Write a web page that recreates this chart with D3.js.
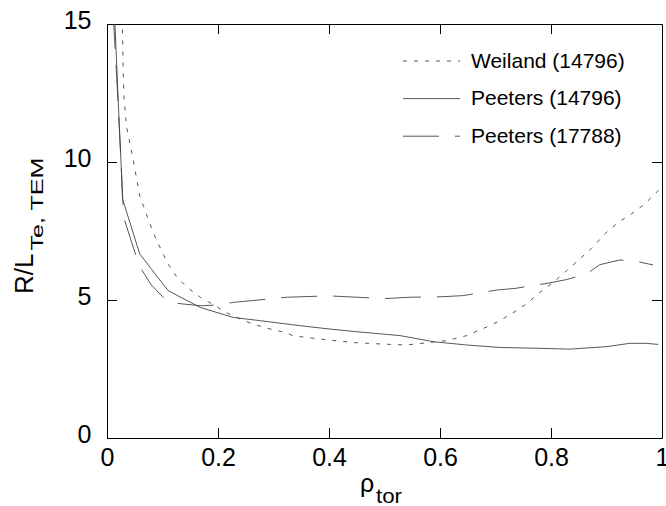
<!DOCTYPE html>
<html>
<head>
<meta charset="utf-8">
<script src="https://cdn.jsdelivr.net/npm/d3@7"></script>
<style>
body { margin: 0; background: #fff; }
text { font-family: "Liberation Sans", Arial, sans-serif; fill: #000; }
.curve { fill: none; stroke: #444; stroke-width: 0.9; }
.axis path, .axis line { stroke: #000; stroke-width: 1; }
</style>
</head>
<body>
<svg id="chart" width="666" height="506"></svg>
<script>
// values (rho_tor, R/L_Te,TEM)
let rho_weiland_14796 = [0.027, 0.03, 0.035, 0.047, 0.059, 0.083, 0.108, 0.125, 0.144, 0.168, 0.195, 0.216, 0.24, 0.263, 0.288, 0.318, 0.336, 0.4, 0.45, 0.5, 0.54, 0.612, 0.648, 0.684, 0.708, 0.735, 0.756, 0.78, 0.804, 0.828, 0.852, 0.873, 0.897, 0.921, 0.945, 0.969, 1.0];
let rlt_weiland_14796 = [15.6, 12.5, 11.3, 10.1, 8.77, 7.45, 6.37, 5.85, 5.46, 5.1, 4.79, 4.53, 4.31, 4.13, 3.98, 3.84, 3.7, 3.55, 3.45, 3.4, 3.37, 3.53, 3.71, 4.02, 4.25, 4.58, 4.86, 5.28, 5.64, 6.06, 6.49, 6.87, 7.39, 7.81, 8.12, 8.48, 9.1];

let rho_peeters_14796 = [0.0135, 0.02, 0.025, 0.028, 0.059, 0.11, 0.168, 0.227, 0.276, 0.348, 0.4, 0.45, 0.528, 0.588, 0.648, 0.708, 0.78, 0.834, 0.9, 0.942, 0.972, 0.993];
let rlt_peeters_14796 = [15.4, 12.3, 10.1, 8.66, 6.67, 5.34, 4.73, 4.37, 4.25, 4.07, 3.95, 3.85, 3.71, 3.49, 3.37, 3.28, 3.25, 3.22, 3.31, 3.43, 3.43, 3.39];

let rho_peeters_17788 = [0.011, 0.0175, 0.025, 0.03, 0.058, 0.08, 0.11, 0.135, 0.17, 0.198, 0.23, 0.263, 0.324, 0.4, 0.45, 0.5, 0.546, 0.605, 0.642, 0.702, 0.735, 0.795, 0.828, 0.864, 0.888, 0.924, 0.954, 0.984];
let rlt_peeters_17788 = [15.4, 13.1, 10.1, 8.0, 6.24, 5.54, 4.92, 4.86, 4.79, 4.82, 4.92, 4.98, 5.1, 5.15, 5.1, 5.05, 5.1, 5.12, 5.16, 5.36, 5.42, 5.61, 5.74, 5.94, 6.28, 6.45, 6.4, 6.27];

let series_names = ["Weiland (14796)", "Peeters (14796)", "Peeters (17788)"];
let series_dash = ["4 7", null, "36 16"];

let x_ticks = [0, 0.2, 0.4, 0.6, 0.8, 1];
let x_tick_labels = ["0", "0.2", "0.4", "0.6", "0.8", "1"];
let y_ticks = [0, 5, 10, 15];
let y_tick_labels = ["0", "5", "10", "15"];

let plot_left = 107, plot_right = 662, plot_top = 24, plot_bottom = 438;

let svg = d3.select("#chart");

let x = d3.scaleLinear().domain([0, 1]).range([plot_left, plot_right]);
let y = d3.scaleLinear().domain([0, 15]).range([plot_bottom, plot_top]);

// Frame and inward ticks on all four sides
svg.append("g")
	.attr("class", "axis")
	.attr("transform", "translate(0," + plot_bottom + ")")
	.call(d3.axisBottom(x).tickValues(x_ticks).tickSize(-10).tickSizeOuter(0)
		.tickFormat(function(d, i) { return x_tick_labels[i]; }))
	.call(function(g) {
		g.selectAll("text")
			.attr("y", 27.5)
			.attr("dy", null)
			.attr("font-size", 25)
			.attr("font-family", "Liberation Sans, Arial, sans-serif");
	});

svg.append("g")
	.attr("class", "axis")
	.attr("transform", "translate(0," + plot_top + ")")
	.call(d3.axisTop(x).tickValues([0.2, 0.4, 0.6, 0.8]).tickSize(-10).tickSizeOuter(0).tickFormat(""));

svg.append("g")
	.attr("class", "axis")
	.attr("transform", "translate(" + plot_left + ",0)")
	.call(d3.axisLeft(y).tickValues(y_ticks).tickSize(-10).tickSizeOuter(0)
		.tickFormat(function(d, i) { return y_tick_labels[i]; }))
	.call(function(g) {
		g.selectAll("text")
			.attr("x", -15.5)
			.attr("y", 4.5)
			.attr("dy", null)
			.attr("font-size", 25)
			.attr("font-family", "Liberation Sans, Arial, sans-serif");
	});

svg.append("g")
	.attr("class", "axis")
	.attr("transform", "translate(" + plot_right + ",0)")
	.call(d3.axisRight(y).tickValues([5, 10]).tickSize(-10).tickSizeOuter(0).tickFormat(""));

// Clip the curves to the plot box
svg.append("clipPath")
	.attr("id", "plotclip")
	.append("rect")
	.attr("x", plot_left)
	.attr("y", plot_top)
	.attr("width", plot_right - plot_left)
	.attr("height", plot_bottom - plot_top);

let line = d3.line()
	.x(function(d) { return x(d[0]); })
	.y(function(d) { return y(d[1]); });

let series = [
	d3.zip(rho_weiland_14796, rlt_weiland_14796),
	d3.zip(rho_peeters_14796, rlt_peeters_14796),
	d3.zip(rho_peeters_17788, rlt_peeters_17788)
];

svg.append("g")
	.attr("clip-path", "url(#plotclip)")
	.selectAll(".curve")
	.data(series)
	.enter().append("path")
	.attr("class", "curve")
	.attr("stroke-dasharray", function(d, i) { return series_dash[i]; })
	.attr("d", line);

// Legend
let legend = svg.append("g").attr("transform", "translate(403,61)");
let rows = legend.selectAll(".row")
	.data(series_names)
	.enter().append("g")
	.attr("class", "row")
	.attr("transform", function(d, i) { return "translate(0," + (i * 37.6) + ")"; });

rows.append("line")
	.attr("class", "curve")
	.attr("x1", 0)
	.attr("x2", 57)
	.attr("y1", 0)
	.attr("y2", 0)
	.attr("stroke-dasharray", function(d, i) { return series_dash[i]; });

rows.append("text")
	.attr("x", 68)
	.attr("y", 6.5)
	.attr("font-size", 21)
	.text(function(d) { return d; });

// x axis label: rho_tor
svg.append("text")
	.attr("x", 360)
	.attr("y", 492)
	.attr("font-size", 25)
	.text("ρ");
svg.append("text")
	.attr("x", 376)
	.attr("y", 503)
	.attr("font-size", 21)
	.attr("textLength", 26)
	.attr("lengthAdjust", "spacingAndGlyphs")
	.text("tor");

// y axis label: R/L_Te,TEM
let ylab = svg.append("g").attr("transform", "translate(33,294) rotate(-90)");
ylab.append("text")
	.attr("x", 0)
	.attr("y", 0)
	.attr("font-size", 26)
	.text("R/L");
ylab.append("text")
	.attr("x", 43.5)
	.attr("y", 10)
	.attr("font-size", 17)
	.attr("textLength", 93)
	.attr("lengthAdjust", "spacingAndGlyphs")
	.text("Te, TEM");
</script>
</body>
</html>
